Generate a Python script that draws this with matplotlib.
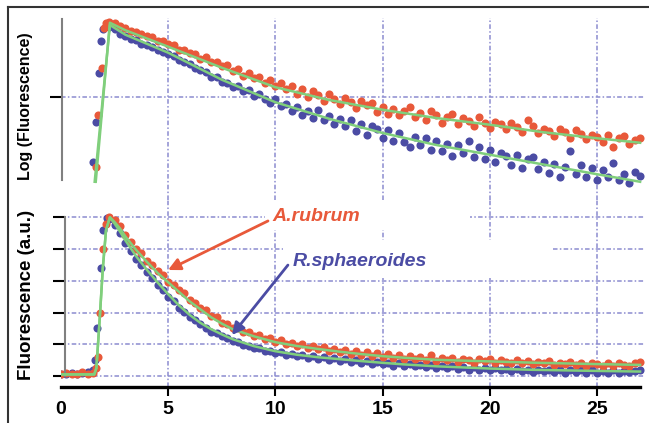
import matplotlib
matplotlib.use('Agg')
import matplotlib.pyplot as plt
from matplotlib.patches import Rectangle
from matplotlib.lines import Line2D

plt.rcParams['font.family'] = ['Liberation Sans', 'DejaVu Sans']

# ---- data ----
# sample times of the decay part, shared by both panels and both strains
t_decay = [2.25, 2.5, 2.75, 3.0, 3.25, 3.5, 3.75, 4.0, 4.25, 4.5,
           4.75, 5.0, 5.25, 5.5, 5.75, 6.0, 6.25, 6.5, 6.75, 7.0,
           7.25, 7.5, 7.75, 8.0, 8.25, 8.5, 8.75, 9.0, 9.25, 9.5,
           9.75, 10.0, 10.25, 10.5, 10.75, 11.0, 11.25, 11.5, 11.75, 12.0,
           12.25, 12.5, 12.75, 13.0, 13.25, 13.5, 13.75, 14.0, 14.25, 14.5,
           14.75, 15.0, 15.25, 15.5, 15.75, 16.0, 16.25, 16.5, 16.75, 17.0,
           17.25, 17.5, 17.75, 18.0, 18.25, 18.5, 18.75, 19.0, 19.25, 19.5,
           19.75, 20.0, 20.25, 20.5, 20.75, 21.0, 21.25, 21.5, 21.75, 22.0,
           22.25, 22.5, 22.75, 23.0, 23.25, 23.5, 23.75, 24.0, 24.25, 24.5,
           24.75, 25.0, 25.25, 25.5, 25.75, 26.0, 26.25, 26.5, 26.75, 27.0]

# top panel: log fluorescence
t_rise_log_blue = [1.51, 1.62, 1.77, 1.86, 1.96, 2.08]
log_rise_blue = [1.14, 1.67, 2.32, 2.75, 2.91, 2.95]
t_rise_log_red = [1.63, 1.74, 1.90, 2.00, 2.12]
log_rise_red = [1.07, 1.76, 2.39, 2.92, 2.98]

log_blue = [2.93, 2.90, 2.84, 2.81, 2.77, 2.76, 2.71, 2.69, 2.67, 2.62,
            2.60, 2.57, 2.55, 2.49, 2.47, 2.44, 2.38, 2.36, 2.33, 2.27,
            2.26, 2.20, 2.19, 2.13, 2.15, 2.08, 2.09, 2.01, 2.04, 1.97,
            1.92, 1.97, 1.88, 1.90, 1.82, 1.86, 1.76, 1.81, 1.72, 1.83,
            1.70, 1.75, 1.64, 1.71, 1.62, 1.69, 1.55, 1.64, 1.50, 1.61,
            1.57, 1.45, 1.56, 1.42, 1.52, 1.40, 1.33, 1.47, 1.36, 1.45,
            1.30, 1.41, 1.28, 1.38, 1.22, 1.36, 1.25, 1.41, 1.20, 1.33,
            1.18, 1.30, 1.14, 1.26, 1.21, 1.10, 1.23, 1.06, 1.17, 1.20,
            1.04, 1.14, 0.99, 1.11, 0.94, 1.07, 1.28, 0.97, 1.09, 0.93,
            1.05, 0.90, 1.03, 0.94, 1.12, 0.89, 0.97, 0.86, 1.00, 0.95]
log_red = [3.00, 2.99, 2.95, 2.92, 2.88, 2.87, 2.84, 2.81, 2.80, 2.74,
           2.75, 2.70, 2.69, 2.62, 2.63, 2.58, 2.57, 2.51, 2.53, 2.46,
           2.47, 2.41, 2.42, 2.35, 2.37, 2.28, 2.32, 2.25, 2.27, 2.18,
           2.22, 2.14, 2.19, 2.10, 2.14, 2.04, 2.10, 2.00, 2.08, 2.02,
           1.94, 2.04, 1.97, 1.90, 1.99, 1.93, 1.85, 1.94, 1.89, 1.92,
           1.80, 1.87, 1.78, 1.84, 1.76, 1.82, 1.86, 1.73, 1.79, 1.70,
           1.81, 1.76, 1.66, 1.74, 1.77, 1.64, 1.72, 1.68, 1.62, 1.73,
           1.66, 1.59, 1.67, 1.64, 1.57, 1.65, 1.60, 1.54, 1.69, 1.61,
           1.52, 1.58, 1.55, 1.48, 1.57, 1.53, 1.46, 1.56, 1.51, 1.44,
           1.50, 1.47, 1.40, 1.49, 1.34, 1.45, 1.48, 1.38, 1.43, 1.46]

fit_log_t = [2.28, 3.0, 5.0, 7.5, 10.0, 12.5, 15.0, 17.5, 20.0, 22.5, 25.0, 27.0]
fit_log_blue = [2.96, 2.83, 2.59, 2.23, 1.93, 1.71, 1.52, 1.36, 1.23, 1.10, 0.97, 0.87]
fit_log_red = [2.99, 2.89, 2.67, 2.39, 2.13, 1.96, 1.83, 1.72, 1.63, 1.53, 1.45, 1.39]
fit_log_rise_t_blue = 1.57
fit_log_rise_t_red = 1.62
fit_log_rise_lo = 0.87

# bottom panel: fluorescence (a.u.)
t_base = [0.0, 0.25, 0.5, 0.75, 1.0, 1.25, 1.5]
lin_base_red = [1.5, 2.0, 1.0, 1.5, 2.5, 1.5, 2.0]
lin_base_blue = [1.0, 1.5, 2.0, 1.0, 2.0, 2.5, 3.5]
t_rise_lin_blue = [1.59, 1.69, 1.85, 1.97, 2.13]
lin_rise_blue = [10, 30, 68, 92, 99.6]
t_rise_lin_red = [1.65, 1.74, 1.83, 1.94, 2.08]
lin_rise_red = [5, 12, 40, 80, 96]

lin_red = [100.5, 98, 94.5, 89, 84.5, 80, 77.5, 72.5, 70, 66,
           63.5, 59, 57.5, 54, 52, 48, 46, 43, 41.5, 38,
           37, 33.5, 33, 30, 30.5, 27.5, 28, 25.5, 26, 23.5,
           24, 21.5, 22.5, 20, 21, 19, 20, 17.5, 19, 17,
           18, 15.5, 17, 15, 16.5, 14, 15.5, 13.5, 15, 12.5,
           14.5, 12, 14, 11.5, 13, 11, 12.5, 10.5, 12, 10,
           13, 9.5, 11.5, 10, 11.5, 9, 11, 10, 8.5, 11,
           9.5, 10.5, 8, 10, 9, 8, 10, 8.5, 9.5, 7.5,
           9, 8, 9.5, 7, 8.5, 7.5, 9, 7, 8.5, 6.5,
           8, 7.5, 6.5, 8.5, 6.5, 8, 7, 6, 8, 9]
lin_blue = [99, 95, 90, 84, 79, 74, 70, 65.5, 62, 57.5,
            54, 50, 47, 43, 40.5, 37, 35, 32.5, 30.5, 28,
            27, 25, 24, 22, 21.5, 19.5, 19, 17.5, 17.5, 16,
            16, 14.5, 15, 13.5, 14, 12.5, 13.5, 11.5, 12.5, 11,
            12, 10, 11.5, 9.5, 10.5, 9, 10, 8.5, 9.5, 7.5,
            9, 7.5, 8.5, 6.5, 8, 6.5, 7.5, 6, 7, 5.5,
            7, 5, 6.5, 5, 6, 4.5, 5.5, 4, 5.5, 4,
            5, 3.5, 5, 3.5, 4.5, 3, 4.5, 3, 4, 2.5,
            4, 3, 4, 2.5, 3.5, 2, 3.5, 2.5, 3.5, 2,
            3.5, 2, 3, 2, 3.5, 2, 3, 2.5, 3, 4]

fit_lin_t = [0, 1.55, 1.65, 1.8, 1.95, 2.1, 2.28, 2.5, 2.75, 3.0,
             3.5, 4.0, 4.5, 5.0, 5.5, 6.0, 6.5, 7.0, 7.5, 8.0,
             9.0, 10.0, 11.0, 12.0, 13.0, 14.0, 15.0, 16.0,
             17.5, 20.0, 22.0, 25.0, 27.0]
fit_lin_red = [1, 1, 5, 35, 68, 92, 100, 97, 93, 88,
               79.5, 72, 65, 59, 53, 47, 42, 37, 33, 29.5,
               25, 21.3, 18.9, 17, 15.3, 13.8, 12.5, 11.5,
               10.2, 9.2, 8.4, 7.5, 7.0]
fit_lin_blue = [1, 1, 5, 35, 68, 92, 100, 96, 91, 85.5,
                75.5, 67, 59, 51.5, 44.5, 38.5, 33.5, 29.5, 26.2, 23.2,
                18.8, 15.6, 13.4, 11.8, 10.6, 9.4, 8.3, 7.3,
                6.1, 4.7, 3.9, 3.2, 2.8]

x_ticks = [0, 5, 10, 15, 20, 25]
lin_ticks = [0, 20, 40, 60, 80, 100]

RED = '#e8593a'
BLUE = '#4b4ca4'
GREEN = '#80cf7c'
GRID = '#8c8cd0'
grid_ls = (0, (3, 1.5, 1, 1.5))
DOT = 34

W, H = 649, 423
fig = plt.figure(figsize=(W / 100, H / 100), dpi=100)
left, right = 61, 644.4
ax_log = fig.add_axes([left / W, 1 - 200 / H, (right - left) / W, 182 / H])
ax_lin = fig.add_axes([left / W, 1 - 386.7 / H, (right - left) / W, 186.7 / H])

for ax in (ax_log, ax_lin):
    ax.set_xlim(0, 27.2)
    ax.set_axisbelow(True)
    ax.spines['top'].set_visible(False)
    ax.spines['right'].set_visible(False)
    ax.spines['left'].set_color('#808080')
    ax.spines['left'].set_linewidth(1.5)
    ax.grid(True, color=GRID, linestyle=grid_ls, linewidth=1.1)
    ax.tick_params(axis='y', direction='out', length=8.5, width=1.5,
                   color='black', labelleft=False)

# ---- top panel ----
ax_log.set_ylim(0.627, 3.053)
ax_log.spines['bottom'].set_visible(False)
ax_log.spines['left'].set_bounds(0.89, 3.04)
ax_log.spines['left'].set_position(('data', 0.05))
ax_log.set_yticks([2.0])
ax_log.set_xticks(x_ticks[1:])
ax_log.tick_params(axis='x', length=0, labelbottom=False)

ax_log.scatter(t_rise_log_blue + t_decay, log_rise_blue + log_blue,
               s=DOT, color=BLUE, linewidths=0, zorder=2)
ax_log.scatter(t_rise_log_red + t_decay, log_rise_red + log_red,
               s=DOT, color=RED, linewidths=0, zorder=2)
ax_log.plot([fit_log_rise_t_blue] + fit_log_t, [fit_log_rise_lo] + fit_log_blue,
            color=GREEN, lw=1.8, zorder=3)
ax_log.plot([fit_log_rise_t_red] + fit_log_t, [fit_log_rise_lo] + fit_log_red,
            color=GREEN, lw=1.8, zorder=3)

# ---- bottom panel ----
ax_lin.set_ylim(-6.74, 110.9)
ax_lin.spines['left'].set_bounds(0, 100)
ax_lin.spines['left'].set_position(('data', 0.19))
ax_lin.spines['bottom'].set_color('black')
ax_lin.spines['bottom'].set_linewidth(2.4)
ax_lin.spines['bottom'].set_bounds(0, 27.0)
ax_lin.set_yticks(lin_ticks)
ax_lin.set_xticks(x_ticks)
ax_lin.set_xticklabels([str(v) for v in x_ticks], fontsize=14, fontweight='bold')
ax_lin.tick_params(axis='x', direction='out', length=6.5, width=1.5, pad=4)
ax_lin.xaxis.get_major_ticks()[0].tick1line.set_visible(False)
ax_lin.xaxis.get_major_ticks()[0].gridline.set_visible(False)

# white boxes behind the labels hide the grid there
ax_lin.add_patch(Rectangle((9.51, 92), 9.56, 19, facecolor='white',
                           edgecolor='none', zorder=1))
ax_lin.add_patch(Rectangle((10.35, 61.7), 12.59, 24, facecolor='white',
                           edgecolor='none', zorder=1))

ax_lin.scatter(t_base + t_rise_lin_blue + t_decay, lin_base_blue + lin_rise_blue + lin_blue,
               s=DOT, color=BLUE, linewidths=0, zorder=2)
ax_lin.scatter(t_base + t_rise_lin_red + t_decay, lin_base_red + lin_rise_red + lin_red,
               s=DOT, color=RED, linewidths=0, zorder=2)
ax_lin.plot(fit_lin_t, fit_lin_blue, color=GREEN, lw=1.8, zorder=3)
ax_lin.plot(fit_lin_t, fit_lin_red, color=GREEN, lw=1.8, zorder=3)

ax_lin.text(9.84, 100.5, 'A.rubrum', color=RED, fontsize=14, fontweight='bold',
            style='italic', ha='left', va='center', zorder=4)
ax_lin.text(10.8, 72, 'R.sphaeroides', color=BLUE, fontsize=14, fontweight='bold',
            style='italic', ha='left', va='center', zorder=4)
ax_lin.annotate('', xy=(4.99, 66.8), xytext=(9.65, 97.7),
                arrowprops=dict(arrowstyle='-|>', color=RED, lw=2,
                                mutation_scale=18, shrinkA=0, shrinkB=0), zorder=4)
ax_lin.annotate('', xy=(7.97, 25.8), xytext=(10.58, 69.9),
                arrowprops=dict(arrowstyle='-|>', color=BLUE, lw=2,
                                mutation_scale=18, shrinkA=0, shrinkB=0), zorder=4)

# axis titles
fig.text(25.5 / W, 1 - 106 / H, 'Log (Fluorescence)', rotation=90, ha='center',
         va='center', fontsize=11.5, fontweight='bold')
fig.text(26.5 / W, 1 - 295 / H, 'Fluorescence (a.u.)', rotation=90, ha='center',
         va='center', fontsize=13.5, fontweight='bold')

# frame around the figure (top and left edges)
fig.add_artist(Line2D([8 / W, 1], [1 - 7 / H, 1 - 7 / H], transform=fig.transFigure,
                      color='#333333', lw=1.5))
fig.add_artist(Line2D([8 / W, 8 / W], [0, 1 - 7 / H], transform=fig.transFigure,
                      color='#333333', lw=1.5))

fig.savefig('out.png', dpi=100)
